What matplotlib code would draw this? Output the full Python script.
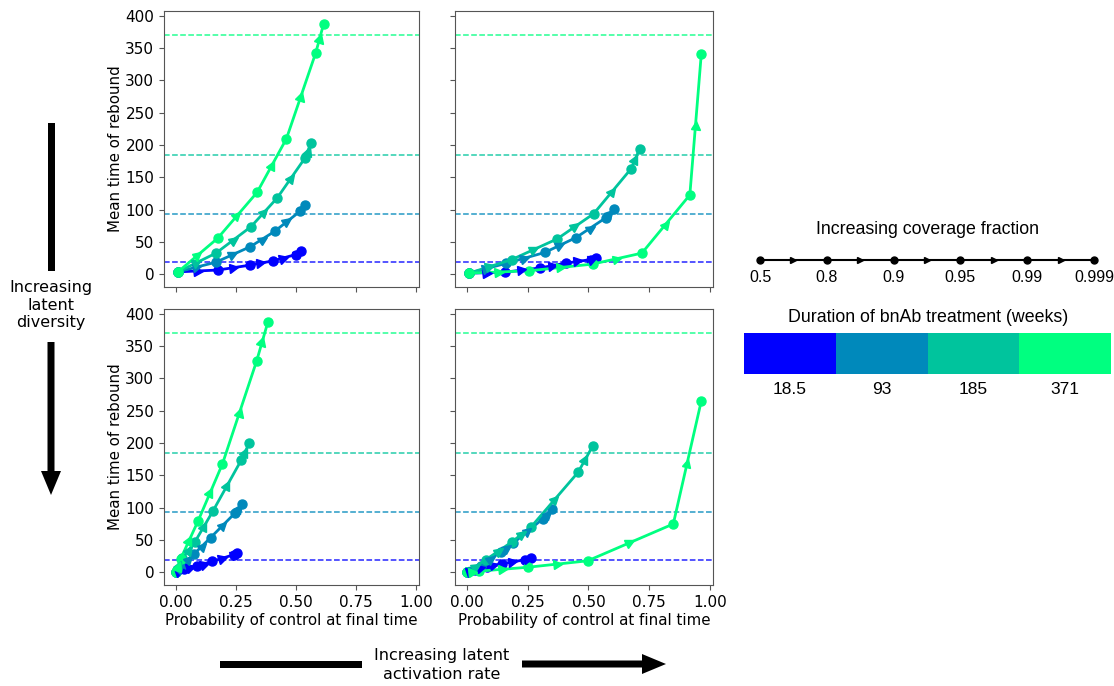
import numpy as np
import matplotlib
matplotlib.use("Agg")
import matplotlib.pyplot as plt
from matplotlib.markers import MarkerStyle
from matplotlib.transforms import Affine2D
from matplotlib.patches import FancyArrow, Rectangle

# ---------------- data ----------------
durations = [18.5, 93, 185, 371]
duration_labels = ["18.5", "93", "185", "371"]
coverage_labels = ["0.5", "0.8", "0.9", "0.95", "0.99", "0.999"]

# each panel: one list per duration (18.5, 93, 185, 371); points at coverage 0.5..0.999
top_left_x = [[0.01, 0.175, 0.31, 0.404, 0.50, 0.522],
              [0.01, 0.168, 0.311, 0.412, 0.517, 0.538],
              [0.01, 0.168, 0.314, 0.423, 0.538, 0.562],
              [0.01, 0.175, 0.339, 0.461, 0.583, 0.616]]
top_left_y = [[4, 6.8, 14.4, 21, 30.8, 36.5],
              [4, 19, 43, 66.7, 97.5, 108],
              [4, 33, 74, 118.5, 180, 202.6],
              [4, 56, 127, 210, 343, 388]]

top_right_x = [[0.01, 0.158, 0.30, 0.407, 0.51, 0.532],
               [0.01, 0.16, 0.321, 0.449, 0.573, 0.606],
               [0.01, 0.185, 0.372, 0.522, 0.676, 0.711],
               [0.01, 0.257, 0.517, 0.72, 0.917, 0.964]]
top_right_y = [[2, 3.6, 10, 17.5, 23, 26],
               [2, 17, 34, 57, 88, 100.6],
               [2, 23, 55, 94, 163.7, 194.5],
               [2, 5.7, 16, 33, 123, 340.6]]

bottom_left_x = [[0, 0.034, 0.09, 0.152, 0.241, 0.255],
                 [0, 0.034, 0.078, 0.146, 0.249, 0.278],
                 [0, 0.028, 0.08, 0.156, 0.273, 0.306],
                 [0, 0.021, 0.094, 0.195, 0.337, 0.384]]
bottom_left_y = [[0, 5, 10.4, 17, 27.4, 30],
                 [0, 13.4, 29, 54, 92.5, 106],
                 [0, 22, 47, 95.4, 173.7, 200],
                 [0, 21, 80, 168, 327, 387.5]]

bottom_right_x = [[0, 0.033, 0.082, 0.144, 0.238, 0.266],
                  [0, 0.06, 0.14, 0.19, 0.313, 0.352],
                  [0, 0.08, 0.185, 0.266, 0.458, 0.517],
                  [0, 0.05, 0.25, 0.497, 0.849, 0.964]]
bottom_right_y = [[0, 4, 8.3, 13.4, 19.6, 22],
                  [0, 10, 32, 45, 83, 98],
                  [0, 20, 47, 71, 155, 195],
                  [0, 2, 8, 18, 75, 265]]

panels = [(top_left_x, top_left_y), (top_right_x, top_right_y),
          (bottom_left_x, bottom_left_y), (bottom_right_x, bottom_right_y)]

# ---------------- style ----------------
W, H = 1114, 686
DPI = 100
cmap = plt.get_cmap("winter")
ld = np.log(durations)
colors = [cmap((v - ld.min()) / (ld.max() - ld.min())) for v in ld]

fig, axes = plt.subplots(2, 2, sharex=True, sharey=True, figsize=(W / DPI, H / DPI), dpi=DPI)
axes = axes.ravel()

# axes boxes in pixels: (left, top, right, bottom)
boxes = [(164, 11, 419, 287), (455, 11, 713, 287),
         (164, 309, 419, 585), (455, 309, 713, 585)]
for ax, (l, t, r, b) in zip(axes, boxes):
    ax.set_position([l / W, 1 - b / H, (r - l) / W, (b - t) / H])

for ax, (px, py) in zip(axes, panels):
    for d, c in zip(durations, colors):
        ax.axhline(d, color=c, ls="--", lw=1.1, alpha=0.85, zorder=1)
    for xs, ys, c in zip(px, py, colors):
        ax.plot(xs, ys, "-", color=c, lw=2.0, marker="o", ms=6.5, zorder=3)
    for sp in ax.spines.values():
        sp.set_color("#555555")
    ax.tick_params(labelsize=11, color="#555555")

# direction arrow markers at segment midpoints
for ax, (px, py), (l, t, r, b) in zip(axes, panels, boxes):
    x0, x1 = ax.get_xlim()
    y0, y1 = ax.get_ylim()
    sx = (r - l) / (x1 - x0)
    sy = (b - t) / (y1 - y0)
    for xs, ys, c in zip(px, py, colors):
        xs = np.asarray(xs, float)
        ys = np.asarray(ys, float)
        for i in range(len(xs) - 1):
            mx = 0.5 * (xs[i] + xs[i + 1])
            my = 0.5 * (ys[i] + ys[i + 1])
            ang = np.degrees(np.arctan2((ys[i + 1] - ys[i]) * sy, (xs[i + 1] - xs[i]) * sx))
            m = MarkerStyle(">", transform=Affine2D().rotate_deg(ang))
            ax.plot([mx], [my], linestyle="none", marker=m, ms=6.5, color=c, zorder=4)

for ax in axes[2:]:
    ax.set_xlabel("Probability of control at final time", fontsize=10.8, labelpad=2)
for ax in axes[0::2]:
    ax.set_ylabel("Mean time of rebound", fontsize=10.8, labelpad=2)
for ax in axes[1::2]:
    ax.tick_params(labelleft=False)
for ax in axes[:2]:
    ax.tick_params(labelbottom=False)

# ---------------- overlay (arrows + legend) ----------------
ov = fig.add_axes([0, 0, 1, 1])
ov.set_xlim(0, W)
ov.set_ylim(H, 0)
ov.axis("off")

# vertical arrow: increasing latent diversity
ov.add_patch(Rectangle((47.5, 123), 7, 148, color="black", lw=0))
ov.add_patch(FancyArrow(51, 342, 0, 153, width=7, head_width=20, head_length=24,
                        length_includes_head=True, color="black", lw=0))
ov.text(51, 305, "Increasing\nlatent\ndiversity", ha="center", va="center",
        fontsize=11.5, linespacing=1.2)

# horizontal arrow: increasing latent activation rate
ov.add_patch(Rectangle((220, 660.5), 142, 7, color="black", lw=0))
ov.add_patch(FancyArrow(522, 664, 144, 0, width=7, head_width=20, head_length=24,
                        length_includes_head=True, color="black", lw=0))
ov.text(442, 665, "Increasing latent\nactivation rate", ha="center", va="center",
        fontsize=11.5, linespacing=1.3)

lfont = ["Liberation Sans", "DejaVu Sans"]
# coverage fraction legend
ov.text(928, 229, "Increasing coverage fraction", ha="center", va="center",
        fontsize=12.8, family=lfont)
cx = np.linspace(760, 1094, len(coverage_labels))
ov.plot(cx, np.full(len(cx), 260), "-", color="black", lw=1.5, marker="o", ms=5)
mid = 0.5 * (cx[:-1] + cx[1:])
ov.plot(mid, np.full(len(mid), 260), linestyle="none", marker=">", ms=5, color="black")
for x, lab in zip(cx, coverage_labels):
    ov.text(x, 278, lab, ha="center", va="center", fontsize=11.5, family=lfont)

# duration colour legend
ov.text(928, 317, "Duration of bnAb treatment (weeks)", ha="center", va="center",
        fontsize=12.8, family=lfont)
seg = (1111 - 744) / len(durations)
for i, (c, lab) in enumerate(zip(colors, duration_labels)):
    ov.add_patch(Rectangle((744 + i * seg, 333), seg, 41, color=c, lw=0))
    ov.text(744 + (i + 0.5) * seg, 390, lab, ha="center", va="center", fontsize=12.5, family=lfont)

fig.savefig("out.png", dpi=DPI)
